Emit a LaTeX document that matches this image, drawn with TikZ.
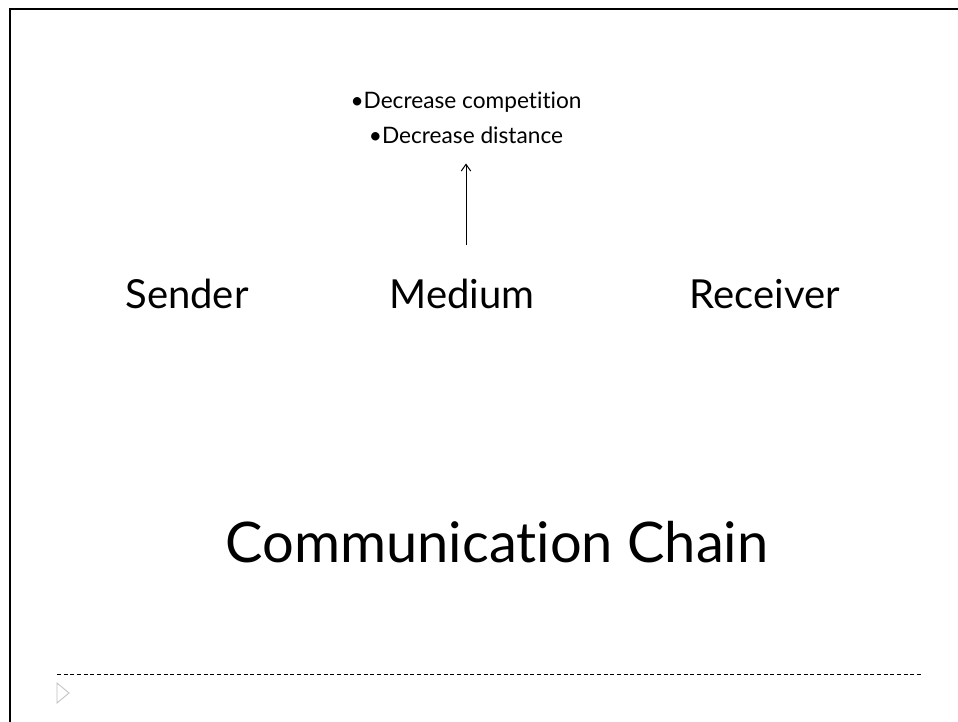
\documentclass[tikz,border=0pt]{standalone}
\usepackage{fontspec}
\setmainfont{Lato}[Ligatures={NoCommon}]
\usetikzlibrary{arrows.meta}
\begin{document}
\begin{tikzpicture}[x=0.75pt,y=-0.75pt,
  every node/.style={inner sep=0pt,anchor=base},
  lbl/.style={font=\fontsize{30}{36}\selectfont},
  ttl/.style={font=\fontsize{42}{50}\selectfont},
  bul/.style={font=\fontsize{17}{21}\selectfont},
  frame/.style={line width=2pt,line join=miter},
  sep/.style={dash pattern=on 3pt off 2pt,line width=0.75pt},
  marker/.style={draw=black!25,line width=0.6pt,line join=miter},
  arr/.style={-{Straight Barb[length=5pt,width=7pt]},line width=0.75pt}]
\useasboundingbox (0,0) rectangle (958,722);
\fill[white] (0,0) rectangle (958,722);
\draw[frame] (10,722) -- (10,9) -- (958,9);
\node[bul] (comp) at (466,108) {•Decrease competition};
\node[bul] (dist) at (466,143) {•Decrease distance};
\coordinate (foot) at (466,245);
\draw[arr] (foot) -- ([yshift=-15pt]dist.south);
\node[lbl] (sender) at (187,308) {Sender};
\node[lbl] (medium) at (462,308) {Medium};
\node[lbl] (receiver) at (765,308) {Receiver};
\node[ttl] (title) at (497,562) {Communication Chain};
\coordinate (dl) at (57,674);
\coordinate (dr) at (921,674);
\draw[sep] (dl) -- (dr);
\draw[marker] (57,683) -- (69,693) -- (57,703) -- cycle;
\end{tikzpicture}
\end{document}
